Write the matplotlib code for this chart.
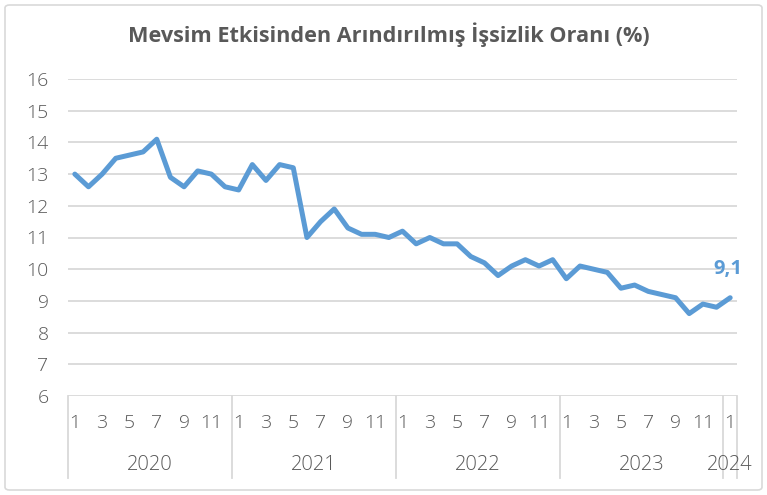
import matplotlib
matplotlib.use("Agg")
import matplotlib.pyplot as plt
import matplotlib.transforms as mtransforms
from matplotlib.patches import FancyBboxPatch

title = "Mevsim Etkisinden Arındırılmış İşsizlik Oranı (%)"
years = ["2020", "2021", "2022", "2023", "2024"]
months_per_year = [12, 12, 12, 12, 1]
rate_2020 = [13.0, 12.6, 13.0, 13.5, 13.6, 13.7, 14.1, 12.9, 12.6, 13.1, 13.0, 12.6]
rate_2021 = [12.5, 13.3, 12.8, 13.3, 13.2, 11.0, 11.5, 11.9, 11.3, 11.1, 11.1, 11.0]
rate_2022 = [11.2, 10.8, 11.0, 10.8, 10.8, 10.4, 10.2, 9.8, 10.1, 10.3, 10.1, 10.3]
rate_2023 = [9.7, 10.1, 10.0, 9.9, 9.4, 9.5, 9.3, 9.2, 9.1, 8.6, 8.9, 8.8]
rate_2024 = [9.1]
last_label = "9,1"
y_ticks = [6, 7, 8, 9, 10, 11, 12, 13, 14, 15, 16]

values = rate_2020 + rate_2021 + rate_2022 + rate_2023 + rate_2024
x = list(range(len(values)))

FONT = ["Open Sans", "DejaVu Sans"]
TXT = "#595959"

W, H = 767, 495
fig = plt.figure(figsize=(W / 100, H / 100), dpi=100)
fig.patch.set_facecolor("white")

# outer border
border = FancyBboxPatch((5 / W, 5 / H), 757 / W, 485 / H,
                        boxstyle="round,pad=0,rounding_size=0.006",
                        transform=fig.transFigure, facecolor="none",
                        edgecolor="#D9D9D9", linewidth=1.2)
fig.patches.append(border)

left, right, top, bottom = 68, 737, 79, 396
ax = fig.add_axes([left / W, (H - bottom) / H, (right - left) / W, (bottom - top) / H])
ax.set_xlim(-0.5, len(values) - 0.5)
ax.set_ylim(6, 16)
ax.set_yticks(y_ticks)
ax.set_yticklabels([str(v) for v in y_ticks])
ax.tick_params(axis="y", length=0, pad=14, labelsize=14, labelcolor=TXT)
for lab in ax.get_yticklabels():
    lab.set_fontfamily(FONT)
    lab.set_fontweight("light")
ax.set_xticks([])
for s in ax.spines.values():
    s.set_visible(False)
ax.grid(axis="y", color="#D9D9D9", linewidth=1.3)
ax.set_axisbelow(True)

ax.plot(x, values, color="#5B9BD5", linewidth=3.6, solid_joinstyle="round",
        solid_capstyle="round", zorder=3)
ax.annotate(last_label, (x[-1], values[-1]), xytext=(-2, 21), textcoords="offset points",
            ha="center", va="center", color="#5B9BD5", fontsize=14.5, fontweight="bold",
            fontfamily=FONT)

# multi-level category axis
trans = mtransforms.blended_transform_factory(ax.transData, fig.transFigure)
y_month = 1 - 423 / H
y_year = 1 - 465 / H
y_line_top = 1 - bottom / H
y_line_bot = 1 - 478 / H
start = 0
bounds = [-0.5]
for yr, n in zip(years, months_per_year):
    for m in range(1, n + 1):
        if m % 2 == 1:
            fig.text(start + m - 1, y_month, str(m), transform=trans, ha="center",
                     va="center", fontsize=14, color=TXT,
                     fontfamily=FONT, fontweight="light")
    fig.text(start + (n - 1) / 2, y_year, yr, transform=trans, ha="center",
             va="center", fontsize=14.5, color=TXT,
             fontfamily=FONT, fontweight="light")
    start += n
    bounds.append(start - 0.5)
for b in bounds:
    fig.add_artist(plt.Line2D([b, b], [y_line_top, y_line_bot], transform=trans,
                              color="#D9D9D9", linewidth=1.3))

fig.text(389 / W, 1 - 35 / H, title, ha="center", va="center", fontsize=15.6,
         fontweight="bold", color=TXT, fontfamily=FONT)

fig.savefig("out.png", dpi=100)
